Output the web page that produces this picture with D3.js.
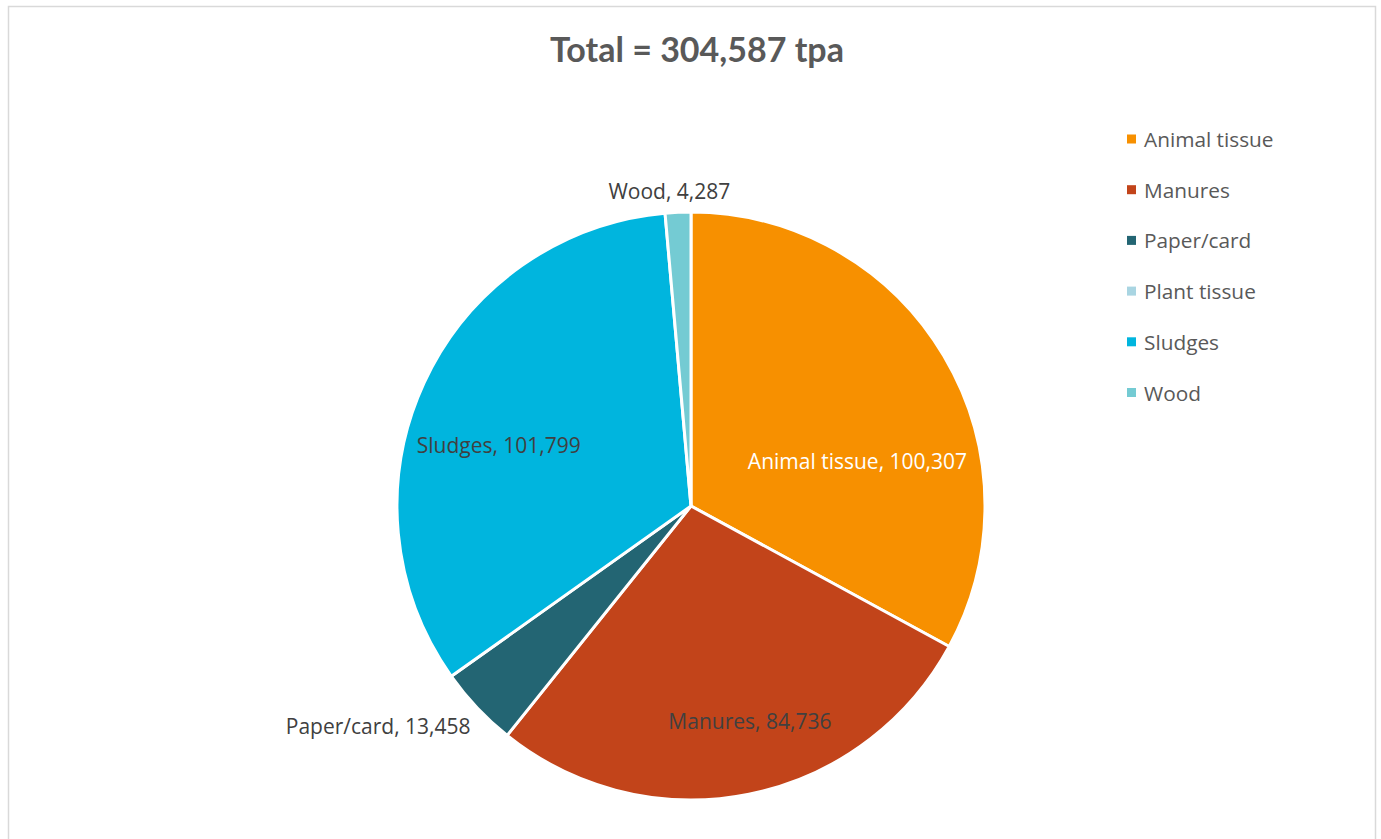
<!DOCTYPE html>
<html>
<head>
<meta charset="utf-8">
<script src="https://cdn.jsdelivr.net/npm/d3@7/dist/d3.min.js"></script>
<style>
  html, body { margin: 0; padding: 0; background: #ffffff; }
  svg { display: block; }
  text { font-family: "Open Sans", Lato, sans-serif; }
  .title { font-family: Lato, "Open Sans", sans-serif; }
</style>
</head>
<body>
<svg id="chart" width="1381" height="839"></svg>
<script>
// Feedstock tonnages (tonnes per annum)
const categories = ["Animal tissue", "Manures", "Paper/card", "Plant tissue", "Sludges", "Wood"];
const tonnes = [100307, 84736, 13458, 0, 101799, 4287];
const colors = ["#F79000", "#C2441A", "#236573", "#A9D5E2", "#00B5DE", "#74CBD3"];
const titleText = "Total = 304,587 tpa";

// Label placement: inside labels sit near the slice centroid, outside labels beyond the rim
const labelLayout = [
  { mode: "inside",  dx: 10,  dy: 48,  fill: "#ffffff" },
  { mode: "inside",  dx: 23,  dy: 37,  fill: "#404040" },
  { mode: "outside", dx: 5,   dy: 7,   fill: "#404040", anchor: "end" },
  null,
  { mode: "inside",  dx: -27, dy: 15,  fill: "#404040" },
  { mode: "outside", dx: -8,  dy: -5,  fill: "#404040", anchor: "middle" }
];

const svg = d3.select("#chart");

// Chart frame
svg.append("rect")
  .attr("x", 8.5).attr("y", 6.5)
  .attr("width", 1367).attr("height", 860)
  .attr("fill", "#ffffff")
  .attr("stroke", "#d9d9d9").attr("stroke-width", 1.5);

// Title
svg.append("text")
  .attr("class", "title")
  .attr("x", 697).attr("y", 62)
  .attr("text-anchor", "middle")
  .attr("font-size", 34).attr("font-weight", 700)
  .attr("fill", "#595959")
  .text(titleText);

const cx = 691, cy = 506, R = 294;
const fmt = d3.format(",");

const rows = categories.map((c, i) => ({ name: c, value: tonnes[i], color: colors[i], idx: i }));

const pie = d3.pie().sort(null).value(d => d.value);
const arcs = pie(rows);
const arc = d3.arc().innerRadius(0).outerRadius(R);
const centroidArc = d3.arc().innerRadius(182).outerRadius(182);
const rimArc = d3.arc().innerRadius(R + 16).outerRadius(R + 16);

const g = svg.append("g").attr("transform", `translate(${cx},${cy})`);

g.selectAll("path.slice")
  .data(arcs.filter(a => a.data.value > 0))
  .join("path")
  .attr("class", "slice")
  .attr("d", arc)
  .attr("fill", d => d.data.color)
  .attr("stroke", "#ffffff")
  .attr("stroke-width", 3)
  .attr("stroke-linejoin", "round");

// Data labels "Category, value"
arcs.forEach(a => {
  const lay = labelLayout[a.data.idx];
  if (!lay || a.data.value <= 0) return;
  const p = lay.mode === "inside" ? centroidArc.centroid(a) : rimArc.centroid(a);
  g.append("text")
    .attr("x", p[0] + lay.dx).attr("y", p[1] + lay.dy)
    .attr("text-anchor", lay.anchor || "middle")
    .attr("dominant-baseline", "central")
    .attr("font-size", 21)
    .attr("fill", lay.fill)
    .text(`${a.data.name}, ${fmt(a.data.value)}`);
});

// Legend
const legend = svg.append("g").attr("transform", "translate(1127,139)");
const legendStep = 50.7;
const item = legend.selectAll("g.item")
  .data(rows)
  .join("g")
  .attr("class", "item")
  .attr("transform", (d, i) => `translate(0,${i * legendStep})`);
item.append("rect")
  .attr("x", 0).attr("y", -4.5)
  .attr("width", 9).attr("height", 9)
  .attr("fill", d => d.color);
item.append("text")
  .attr("x", 17).attr("y", 0)
  .attr("dominant-baseline", "central")
  .attr("font-size", 20.8)
  .attr("fill", "#595959")
  .text(d => d.name);
</script>
</body>
</html>
